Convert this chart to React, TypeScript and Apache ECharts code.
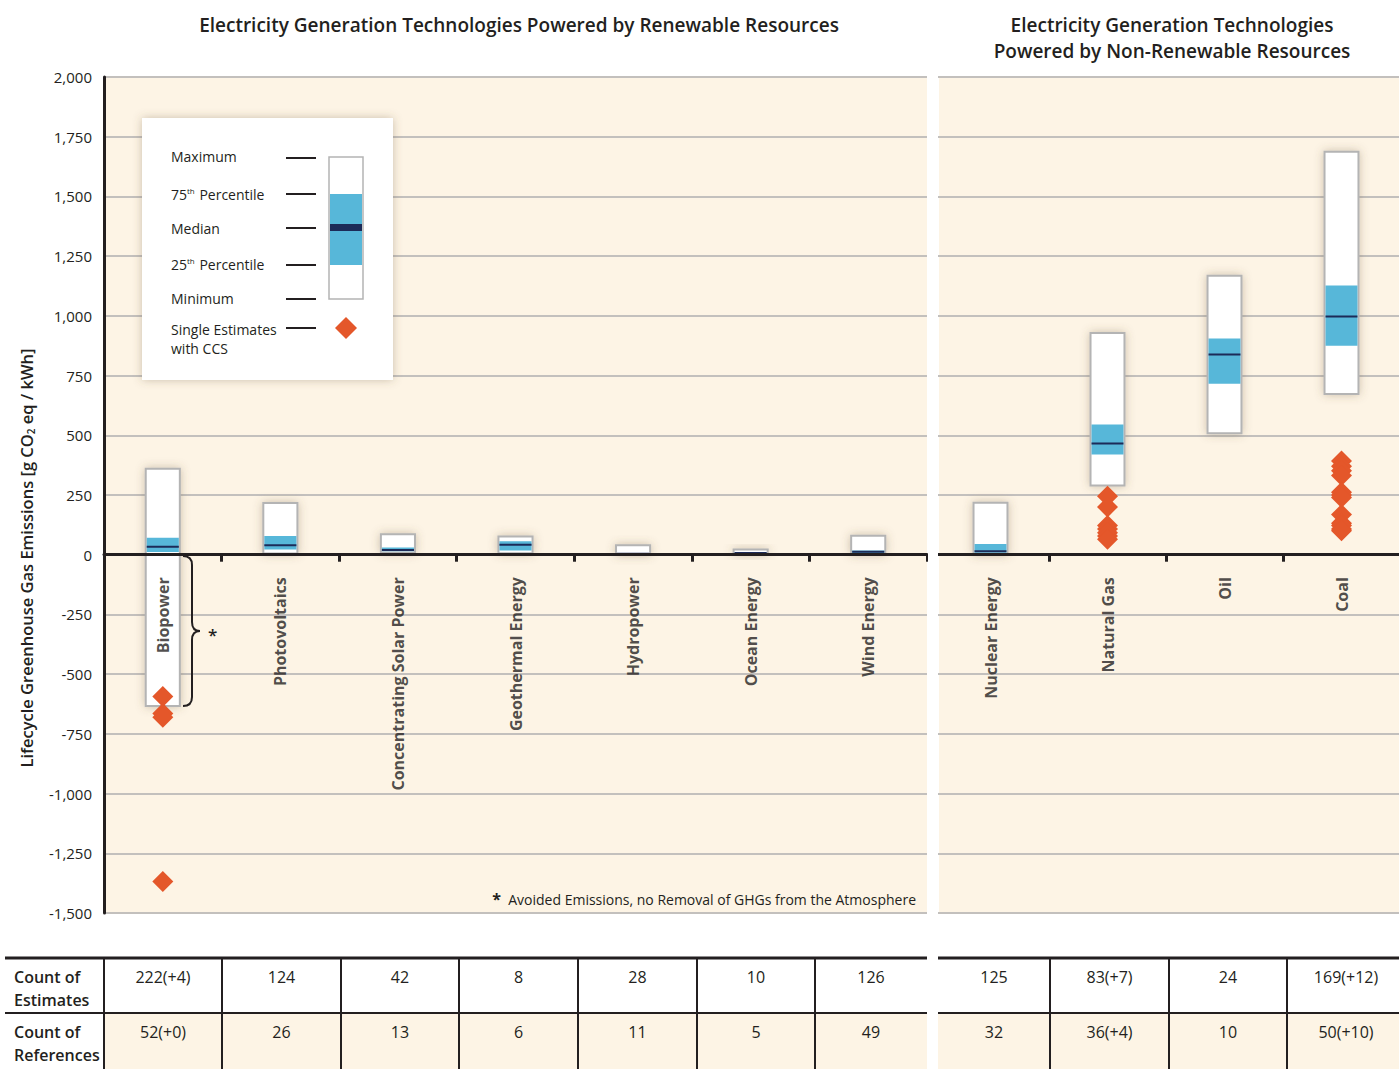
import React, { useEffect, useRef } from "react";
import * as echarts from "echarts";

// ---------- DATA ----------
const renewableCategories = [
  "Biopower",
  "Photovoltaics",
  "Concentrating Solar Power",
  "Geothermal Energy",
  "Hydropower",
  "Ocean Energy",
  "Wind Energy",
];
const nonRenewableCategories = ["Nuclear Energy", "Natural Gas", "Oil", "Coal"];

// min, 25th, median, 75th, max  (g CO2 eq / kWh)
const renewMin = [-633, 5, 9, 6, 0, 2, 2];
const renewQ1 = [11, 22, 14, 18, 2, 5, 7];
const renewMedian = [33, 40, 20, 42, 4, 7, 12];
const renewQ3 = [71, 78, 30, 56, 6, 9, 18];
const renewMax = [360, 217, 86, 76, 40, 22, 79];

const nonMin = [1, 290, 508, 673];
const nonQ1 = [8, 420, 716, 875];
const nonMedian = [15, 466, 838, 997];
const nonQ3 = [45, 545, 905, 1127];
const nonMax = [218, 928, 1168, 1687];

// Single estimates with CCS
const biopowerCCS = [-594, -665, -680, -1368];
const naturalGasCCS = [245, 200, 122, 108, 92, 78, 65];
const coalCCS = [392, 370, 352, 332, 262, 250, 240, 168, 132, 122, 108, 100];

const yTicks = { min: -1500, max: 2000, interval: 250 };

const estimatesRenew = ["222(+4)", "124", "42", "8", "28", "10", "126"];
const referencesRenew = ["52(+0)", "26", "13", "6", "11", "5", "49"];
const estimatesNon = ["125", "83(+7)", "24", "169(+12)"];
const referencesNon = ["32", "36(+4)", "10", "50(+10)"];

// ---------- STYLE ----------
const FONT = "'Open Sans', 'Noto Sans', sans-serif";
const INK = "#231f20";
const BG = "#fdf4e5";
const GRIDLINE = "#c3c0bd";
const BLUE = "#57b7d9";
const NAVY = "#1c2b58";
const ORANGE = "#e4572a";
const BOXSTROKE = "#b4b4b4";

const makeBoxData = (mn: number[], q1: number[], md: number[], q3: number[], mx: number[]) =>
  mn.map((v, i) => [i, v, q1[i], md[i], q3[i], mx[i]]);

const renderBox = (_params: any, api: any) => {
  const i = api.value(0);
  const pMin = api.coord([i, api.value(1)]);
  const pQ1 = api.coord([i, api.value(2)]);
  const pMed = api.coord([i, api.value(3)]);
  const pQ3 = api.coord([i, api.value(4)]);
  const pMax = api.coord([i, api.value(5)]);
  const w = api.size([1, 0])[0] * 0.29;
  const x = pMax[0] - w / 2;
  return {
    type: "group",
    children: [
      {
        type: "rect",
        shape: { x, y: pMax[1], width: w, height: pMin[1] - pMax[1] },
        style: {
          fill: "#ffffff",
          stroke: BOXSTROKE,
          lineWidth: 2,
          shadowBlur: 10,
          shadowColor: "rgba(110,90,60,0.35)",
        },
      },
      {
        type: "rect",
        shape: { x: x + 1, y: pQ3[1], width: w - 2, height: pQ1[1] - pQ3[1] },
        style: { fill: BLUE },
      },
      {
        type: "line",
        shape: { x1: x + 1, y1: pMed[1], x2: x + w - 1, y2: pMed[1] },
        style: { stroke: NAVY, lineWidth: 2 },
      },
    ],
  };
};

echarts.graphic.registerShape(
  "brace",
  echarts.graphic.extendPath(
    "M0,0 C6,0 9,3 9,9 L9,66 C9,72 12,75 17,75 C12,75 9,78 9,84 L9,141 C9,147 6,150 0,150",
    {}
  )
);

// Table layout (pixel columns)
const leftCols = [104, 222, 341, 459, 578, 697, 815, 927];
const rightCols = [938, 1050, 1169, 1287, 1405];

function buildGraphics() {
  const g: any[] = [];
  // panel backgrounds
  g.push({ type: "rect", z: -10, shape: { x: 105, y: 77, width: 822, height: 836 }, style: { fill: BG } });
  g.push({ type: "rect", z: -10, shape: { x: 939, y: 77, width: 460, height: 836 }, style: { fill: BG } });
  // white gap between the two panels
  g.push({ type: "rect", z: 100, shape: { x: 928, y: 70, width: 10, height: 860 }, style: { fill: "#ffffff" } });

  // titles
  const titleFont = `600 19px ${FONT}`;
  g.push({
    type: "text",
    x: 519,
    y: 25,
    style: { text: "Electricity Generation Technologies Powered by Renewable Resources", font: titleFont, fill: INK, align: "center", verticalAlign: "middle" },
  });
  g.push({
    type: "text",
    x: 1172,
    y: 25,
    style: { text: "Electricity Generation Technologies", font: titleFont, fill: INK, align: "center", verticalAlign: "middle" },
  });
  g.push({
    type: "text",
    x: 1172,
    y: 51,
    style: { text: "Powered by Non-Renewable Resources", font: titleFont, fill: INK, align: "center", verticalAlign: "middle" },
  });

  // y axis name
  g.push({
    type: "text",
    x: 26,
    y: 558,
    rotation: Math.PI / 2,
    style: {
      text: "Lifecycle Greenhouse Gas Emissions [g CO{sub|2} eq / kWh]",
      font: `600 16.5px ${FONT}`,
      fill: INK,
      align: "center",
      verticalAlign: "middle",
      rich: { sub: { fontSize: 10, fontWeight: 600, fontFamily: FONT, fill: INK, padding: [9, 0, 0, 0] } },
    },
  });

  // legend box
  const LZ = 60;
  g.push({ type: "rect", z: LZ, shape: { x: 142, y: 118, width: 251, height: 262 }, style: { fill: "#ffffff", shadowBlur: 10, shadowColor: "rgba(110,90,60,0.35)" } });
  const legendRows = [
    { t: "Maximum", y: 156, ly: 158 },
    { t: "75{sup|th} Percentile", y: 194, ly: 194 },
    { t: "Median", y: 228, ly: 228 },
    { t: "25{sup|th} Percentile", y: 264, ly: 265 },
    { t: "Minimum", y: 298, ly: 299 },
    { t: "Single Estimates", y: 329, ly: 328 },
  ];
  legendRows.forEach((r) => {
    g.push({
      type: "text",
      z: LZ + 1,
      x: 171,
      y: r.y,
      style: {
        text: r.t,
        font: `14px ${FONT}`,
        fill: INK,
        verticalAlign: "middle",
        rich: { sup: { fontSize: 8, fontFamily: FONT, fill: INK, padding: [0, 1, 7, 0] } },
      },
    });
    g.push({ type: "line", z: LZ + 1, shape: { x1: 286, y1: r.ly, x2: 316, y2: r.ly }, style: { stroke: INK, lineWidth: 2 } });
  });
  g.push({ type: "text", z: LZ + 1, x: 171, y: 348, style: { text: "with CCS", font: `14px ${FONT}`, fill: INK, verticalAlign: "middle" } });
  g.push({ type: "rect", z: LZ + 1, shape: { x: 329, y: 157, width: 34, height: 142 }, style: { fill: "#fff", stroke: BOXSTROKE, lineWidth: 1.5 } });
  g.push({ type: "rect", z: LZ + 2, shape: { x: 330, y: 194, width: 32, height: 71 }, style: { fill: BLUE } });
  g.push({ type: "rect", z: LZ + 3, shape: { x: 330, y: 224, width: 32, height: 7 }, style: { fill: NAVY } });
  g.push({ type: "polygon", z: LZ + 1, shape: { points: [[346, 317], [357, 328], [346, 339], [335, 328]] }, style: { fill: ORANGE } });

  // brace + asterisk
  g.push({ type: "brace", z: 20, x: 183, y: 556, style: { stroke: INK, lineWidth: 2, fill: "none" } });
  g.push({ type: "text", z: 20, x: 208, y: 634, style: { text: "*", font: `600 17px ${FONT}`, fill: INK, verticalAlign: "middle" } });

  // footnote
  g.push({
    type: "text",
    z: 20,
    x: 916,
    y: 899,
    style: {
      text: "{a|*}  Avoided Emissions, no Removal of GHGs from the Atmosphere",
      font: `14px ${FONT}`,
      fill: INK,
      align: "right",
      verticalAlign: "middle",
      rich: { a: { fontSize: 16, fontWeight: "bold", fontFamily: FONT, fill: INK } },
    },
  });

  // ---------- table ----------
  g.push({ type: "rect", shape: { x: 105, y: 1013, width: 822, height: 60 }, style: { fill: BG } });
  g.push({ type: "rect", shape: { x: 938, y: 1013, width: 461, height: 60 }, style: { fill: BG } });
  g.push({ type: "line", z: 5, shape: { x1: 5, y1: 958, x2: 927, y2: 958 }, style: { stroke: INK, lineWidth: 3 } });
  g.push({ type: "line", z: 5, shape: { x1: 938, y1: 958, x2: 1399, y2: 958 }, style: { stroke: INK, lineWidth: 3 } });
  g.push({ type: "line", z: 5, shape: { x1: 5, y1: 1013, x2: 927, y2: 1013 }, style: { stroke: INK, lineWidth: 2 } });
  g.push({ type: "line", z: 5, shape: { x1: 938, y1: 1013, x2: 1399, y2: 1013 }, style: { stroke: INK, lineWidth: 2 } });
  leftCols.slice(0, -1).forEach((x) =>
    g.push({ type: "line", z: 5, shape: { x1: x, y1: 958, x2: x, y2: 1069 }, style: { stroke: INK, lineWidth: 2 } })
  );
  rightCols.slice(1, -1).forEach((x) =>
    g.push({ type: "line", z: 5, shape: { x1: x, y1: 958, x2: x, y2: 1069 }, style: { stroke: INK, lineWidth: 2 } })
  );
  const labelFont = `600 16px ${FONT}`;
  g.push({ type: "text", z: 5, x: 14, y: 977, style: { text: "Count of", font: labelFont, fill: INK, verticalAlign: "middle" } });
  g.push({ type: "text", z: 5, x: 14, y: 1000, style: { text: "Estimates", font: labelFont, fill: INK, verticalAlign: "middle" } });
  g.push({ type: "text", z: 5, x: 14, y: 1032, style: { text: "Count of", font: labelFont, fill: INK, verticalAlign: "middle" } });
  g.push({ type: "text", z: 5, x: 14, y: 1055, style: { text: "References", font: labelFont, fill: INK, verticalAlign: "middle" } });
  const valFont = `16px ${FONT}`;
  const addRow = (vals: string[], cols: number[], y: number) =>
    vals.forEach((v, i) =>
      g.push({
        type: "text",
        z: 5,
        x: (cols[i] + cols[i + 1]) / 2,
        y,
        style: { text: v, font: valFont, fill: INK, align: "center", verticalAlign: "middle" },
      })
    );
  addRow(estimatesRenew, leftCols, 977);
  addRow(referencesRenew, leftCols, 1032);
  addRow(estimatesNon, rightCols, 977);
  addRow(referencesNon, rightCols, 1032);
  return g;
}

const yAxisBase = (gridIndex: number, showLabels: boolean) => ({
  type: "value",
  gridIndex,
  min: yTicks.min,
  max: yTicks.max,
  interval: yTicks.interval,
  axisLine: { show: showLabels, lineStyle: { color: INK, width: 3 } },
  axisTick: { show: false },
  axisLabel: {
    show: showLabels,
    fontSize: 15,
    fontFamily: FONT,
    color: INK,
    margin: 12,
    formatter: (v: number) => v.toLocaleString("en-US"),
  },
  splitLine: { show: true, lineStyle: { color: GRIDLINE, width: 2 } },
});

const xAxisBase = (gridIndex: number, data: string[]) => ({
  type: "category",
  gridIndex,
  data,
  z: 5,
  axisLine: { onZero: true, lineStyle: { color: INK, width: 3 } },
  axisTick: { show: true, interval: 0, length: 7, lineStyle: { color: INK, width: 3 } },
  axisLabel: { show: false, interval: 0 },
  splitLine: { show: false },
});

// category names placed under the zero line, through the category scale
const nameLabelSeries = (axisIndex: number, cats: string[]) => ({
  type: "scatter",
  xAxisIndex: axisIndex,
  yAxisIndex: axisIndex,
  z: 12,
  symbol: "rect",
  symbolSize: 1,
  silent: true,
  itemStyle: { color: "rgba(0,0,0,0)" },
  data: cats.map((c, i) => ({ value: [i, 0], name: c })),
  label: {
    show: true,
    position: "bottom",
    distance: 22,
    rotate: 90,
    align: "right",
    verticalAlign: "middle",
    formatter: (p: any) => p.name,
    fontSize: 16,
    fontWeight: "bold",
    fontFamily: FONT,
    color: INK,
  },
});

export default function App() {
  const ref = useRef<HTMLDivElement>(null);
  useEffect(() => {
    document.body.style.margin = "0";
    if (!ref.current) return;
    const chart = echarts.init(ref.current, undefined, { renderer: "svg" });
    const option: any = {
      animation: false,
      backgroundColor: "#ffffff",
      textStyle: { fontFamily: FONT },
      grid: [
        { left: 104, top: 77, width: 823, height: 836, containLabel: false, outerBoundsMode: "none" },
        { left: 932, top: 77, width: 468, height: 836, containLabel: false, outerBoundsMode: "none" },
      ],
      xAxis: [xAxisBase(0, renewableCategories), xAxisBase(1, nonRenewableCategories)],
      yAxis: [yAxisBase(0, true), yAxisBase(1, false)],
      series: [
        {
          type: "custom",
          xAxisIndex: 0,
          yAxisIndex: 0,
          z: 2,
          renderItem: renderBox,
          encode: { x: 0, y: [1, 2, 3, 4, 5] },
          data: makeBoxData(renewMin, renewQ1, renewMedian, renewQ3, renewMax),
        },
        {
          type: "custom",
          xAxisIndex: 1,
          yAxisIndex: 1,
          z: 2,
          renderItem: renderBox,
          encode: { x: 0, y: [1, 2, 3, 4, 5] },
          data: makeBoxData(nonMin, nonQ1, nonMedian, nonQ3, nonMax),
        },
        {
          type: "scatter",
          xAxisIndex: 0,
          yAxisIndex: 0,
          z: 10,
          symbol: "diamond",
          symbolSize: [21, 21],
          itemStyle: { color: ORANGE, opacity: 1 },
          data: biopowerCCS.map((v) => [0, v]),
        },
        {
          type: "scatter",
          xAxisIndex: 1,
          yAxisIndex: 1,
          z: 10,
          symbol: "diamond",
          symbolSize: [21, 21],
          itemStyle: { color: ORANGE, opacity: 1 },
          data: [
            ...naturalGasCCS.map((v) => [1, v]),
            ...coalCCS.map((v) => [3, v]),
          ],
        },
        nameLabelSeries(0, renewableCategories),
        nameLabelSeries(1, nonRenewableCategories),
      ],
      graphic: buildGraphics(),
    };
    chart.setOption(option);
    return () => chart.dispose();
  }, []);
  return <div ref={ref} style={{ width: 1399, height: 1069 }} />;
}
